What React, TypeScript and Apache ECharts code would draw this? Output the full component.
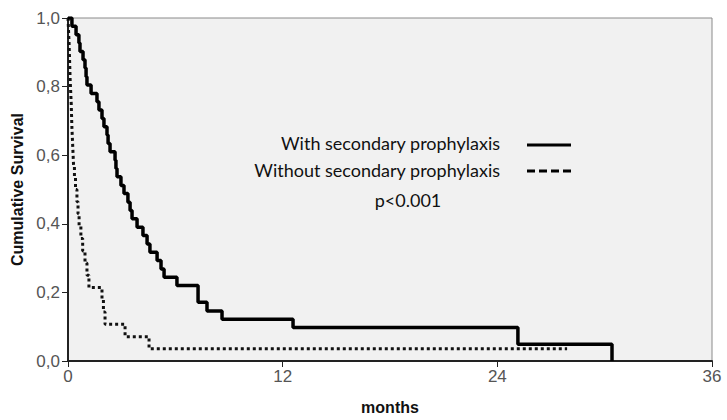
import React, { useEffect, useRef } from "react";
import * as echarts from "echarts";

// Kaplan–Meier step points: [months, cumulative survival after the event]
const withProphylaxis: [number, number][] = [
  [0, 1.0], [0.22, 0.976], [0.45, 0.951], [0.61, 0.927], [0.67, 0.902],
  [0.84, 0.878], [0.95, 0.854], [1.01, 0.829], [1.06, 0.805], [1.29, 0.78],
  [1.62, 0.756], [1.73, 0.732], [1.9, 0.707], [2.01, 0.683], [2.18, 0.659],
  [2.24, 0.634], [2.35, 0.61], [2.63, 0.585], [2.68, 0.561], [2.74, 0.537],
  [2.96, 0.512], [3.13, 0.488], [3.35, 0.463], [3.47, 0.439], [3.58, 0.415],
  [3.86, 0.39], [4.19, 0.366], [4.42, 0.341], [4.58, 0.317], [4.98, 0.293],
  [5.2, 0.268], [5.37, 0.244], [6.09, 0.22], [7.27, 0.171], [7.77, 0.146],
  [8.61, 0.122], [12.58, 0.098], [25.15, 0.049], [30.41, 0.0],
];

const withoutProphylaxis: [number, number][] = [
  [0, 1.0], [0.03, 0.964], [0.06, 0.929], [0.08, 0.893], [0.1, 0.857],
  [0.12, 0.821], [0.15, 0.786], [0.18, 0.75], [0.2, 0.714], [0.22, 0.679],
  [0.25, 0.643], [0.28, 0.607], [0.31, 0.571], [0.36, 0.536], [0.42, 0.5],
  [0.5, 0.464], [0.56, 0.429], [0.62, 0.393], [0.72, 0.357], [0.82, 0.321],
  [0.95, 0.286], [1.06, 0.25], [1.17, 0.214], [1.9, 0.179], [1.98, 0.143],
  [2.07, 0.107], [3.19, 0.071], [4.53, 0.036], [27.9, 0.036],
];

const legendLabels = ["With secondary prophylaxis", "Without secondary prophylaxis"];
const pValueText = "p<0.001";
const xTicks = { min: 0, max: 36, interval: 12 };
const yTicks = { min: 0, max: 1, interval: 0.2 };

const tickFont = "Liberation Sans";
const titleFont = "Liberation Sans";
const noteFont = "Lato";

export default function App() {
  const ref = useRef<HTMLDivElement>(null);

  useEffect(() => {
    if (!ref.current) return;
    const chart = echarts.init(ref.current, undefined, { renderer: "svg" });
    chart.setOption({
      animation: false,
      backgroundColor: "#ffffff",
      grid: {
        left: 68,
        right: 15,
        top: 18,
        bottom: 58,
        show: true,
        backgroundColor: "#f1f1f1",
        borderColor: "#8a8a8a",
        borderWidth: 1,
      },
      xAxis: {
        type: "value",
        min: xTicks.min,
        max: xTicks.max,
        interval: xTicks.interval,
        name: "months",
        nameLocation: "middle",
        nameGap: 38,
        nameTextStyle: { fontFamily: titleFont, fontWeight: "bold", fontSize: 16, color: "#111" },
        axisLine: { show: true, lineStyle: { color: "#222", width: 2 } },
        axisTick: { show: true, length: 6, lineStyle: { color: "#222", width: 1 } },
        axisLabel: { fontFamily: tickFont, fontSize: 17, color: "#555", margin: 7 },
        splitLine: { show: false },
      },
      yAxis: {
        type: "value",
        min: yTicks.min,
        max: yTicks.max,
        interval: yTicks.interval,
        name: "Cumulative Survival",
        nameLocation: "middle",
        nameGap: 42,
        nameTextStyle: { fontFamily: titleFont, fontWeight: "bold", fontSize: 16, color: "#111" },
        axisLine: { show: true, lineStyle: { color: "#222", width: 2 } },
        axisTick: { show: true, inside: false, length: 6, lineStyle: { color: "#222", width: 1 } },
        axisLabel: {
          fontFamily: tickFont,
          fontSize: 17,
          color: "#555",
          margin: 8,
          formatter: (v: number) => v.toFixed(1).replace(".", ","),
        },
        splitLine: { show: false },
      },
      series: [
        {
          name: legendLabels[0],
          type: "line",
          step: "end",
          data: withProphylaxis,
          showSymbol: false,
          lineStyle: { color: "#000", width: 3.5 },
          z: 3,
        },
        {
          name: legendLabels[1],
          type: "line",
          step: "end",
          data: withoutProphylaxis,
          showSymbol: false,
          lineStyle: { color: "#111", width: 3, type: [3, 3], cap: "butt" },
          z: 2,
        },
      ],
      graphic: [
        {
          type: "text",
          x: 500,
          y: 143,
          style: { text: legendLabels[0], fontFamily: noteFont, fontSize: 18, fill: "#111", align: "right", verticalAlign: "middle" },
        },
        {
          type: "line",
          shape: { x1: 527, y1: 145, x2: 571, y2: 145 },
          style: { stroke: "#000", lineWidth: 3 },
        },
        {
          type: "text",
          x: 500,
          y: 170,
          style: { text: legendLabels[1], fontFamily: noteFont, fontSize: 18, fill: "#111", align: "right", verticalAlign: "middle" },
        },
        {
          type: "line",
          shape: { x1: 527, y1: 171, x2: 571, y2: 171 },
          style: { stroke: "#000", lineWidth: 3, lineDash: [8, 4] },
        },
        {
          type: "text",
          x: 408,
          y: 200,
          style: { text: pValueText, fontFamily: noteFont, fontSize: 18, fill: "#111", align: "center", verticalAlign: "middle" },
        },
      ],
    });
    return () => chart.dispose();
  }, []);

  return (
    <div
      ref={ref}
      style={{ position: "fixed", left: 0, top: 0, width: 727, height: 420 }}
    />
  );
}
